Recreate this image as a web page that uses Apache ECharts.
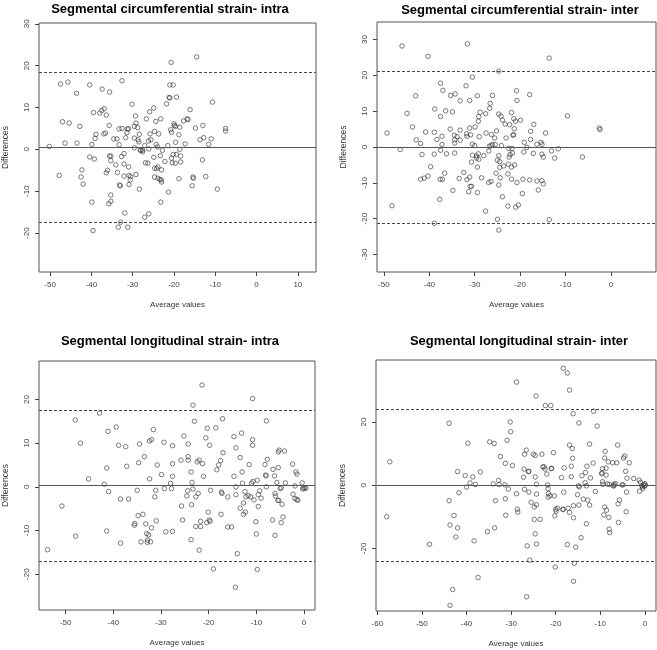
<!DOCTYPE html>
<html>
<head>
<meta charset="utf-8">
<script src="https://cdn.jsdelivr.net/npm/echarts@6/dist/echarts.min.js"></script>
<style>html,body{margin:0;padding:0;background:#fff;}#c{width:657px;height:650px;}</style>
</head>
<body>
<div id="c"></div>
<script>
// ---------- Panel titles ----------
const titles = [
  "Segmental circumferential strain- intra",
  "Segmental circumferential strain- inter",
  "Segmental longitudinal strain- intra",
  "Segmental longitudinal strain- inter"
];
const xAxisName = "Average values";
const yAxisName = "Differences";

// ---------- Tick labels ----------
const p1XTicks = [-50, -40, -30, -20, -10, 0, 10];
const p1YTicks = [-20, -10, 0, 10, 20, 30];
const p2XTicks = [-50, -40, -30, -20, -10, 0];
const p2YTicks = [-30, -20, -10, 0, 10, 20, 30];
const p3XTicks = [-50, -40, -30, -20, -10, 0];
const p3YTicks = [-20, -10, 0, 10, 20];
const p4XTicks = [-60, -50, -40, -30, -20, -10, 0];
const p4YTicks = [-20, 0, 20];

// ---------- Axis ranges [xmin, xmax, ymin, ymax] ----------
const p1Range = [-52.7, 14.4, -29.3, 30.2];
const p2Range = [-51.5, 9.9, -34.9, 34.9];
const p3Range = [-55.6, 2.3, -28.2, 28.8];
const p4Range = [-60.3, 2.5, -39.8, 39.6];

// ---------- Mean difference and limits of agreement [mean, upper, lower] ----------
const p1Lines = [0.6, 18.5, -17.5];
const p2Lines = [0.0, 21.1, -21.2];
const p3Lines = [0.3, 17.5, -17.0];
const p4Lines = [0.0, 23.9, -24.1];

// ---------- Panel 1: circumferential intra ----------
const p1Avg = [-50.2,-47.5,-45.7,-47.8,-47.0,-46.4,-45.4,-43.6,-43.5,-42.8,-42.5,-42.3,-42.0,-40.4,-40.4,-39.9,-39.9,-39.6,-39.5,-39.3,-39.1,-38.9,-38.0,-37.5,-37.4,-37.0,-36.9,-36.6,-36.4,-36.4,-36.1,-35.8,-35.7,-35.6,-35.6,-35.3,-35.3,-35.3,-35.3,-34.6,-34.1,-33.8,-33.7,-33.5,-33.3,-33.3,-33.2,-33.0,-32.9,-32.6,-32.6,-32.7,-32.1,-32.1,-32.1,-31.9,-31.7,-31.4,-31.3,-31.0,-31.2,-31.0,-30.9,-30.9,-30.6,-30.2,-30.5,-29.6,-29.6,-29.6,-29.3,-29.2,-29.2,-28.8,-28.7,-28.4,-28.4,-28.5,-28.2,-28.0,-27.6,-27.6,-27.1,-27.1,-26.9,-26.7,-26.3,-26.2,-26.1,-26.1,-25.9,-25.8,-25.6,-24.9,-24.9,-24.7,-24.7,-24.7,-24.4,-24.3,-24.2,-24.0,-23.9,-23.9,-23.7,-23.4,-23.3,-23.2,-23.2,-23.1,-23.0,-23.0,-22.8,-22.2,-21.8,-21.5,-21.3,-21.2,-21.0,-21.0,-20.8,-20.7,-20.6,-20.6,-20.4,-20.2,-20.2,-20.0,-19.9,-19.7,-19.6,-19.6,-19.4,-19.4,-18.8,-18.6,-18.6,-18.4,-18.4,-18.8,-17.7,-17.3,-16.8,-16.6,-16.1,-15.6,-15.4,-15.3,-14.8,-14.5,-13.7,-13.1,-13.0,-12.8,-12.3,-11.6,-11.0,-10.7,-9.5,-7.5,-7.5];
const p1Diff = [0.7,15.6,16.1,-6.2,6.6,1.5,6.3,13.4,1.5,5.5,-6.6,-4.9,-8.3,15.4,-1.8,-12.6,1.2,-19.4,8.8,-2.3,2.6,3.6,8.7,9.3,14.4,3.7,9.7,3.9,8.2,-5.6,-5.0,-13.0,5.7,13.7,-1.6,-1.6,-2.7,-12.4,-10.9,2.5,-3.7,2.5,-5.5,-18.6,4.9,1.1,-8.5,-8.7,-17.4,16.4,5.0,-1.7,-1.0,-3.5,-6.4,-15.2,2.8,4.0,4.9,4.9,-18.6,-4.2,-6.2,-8.4,-7.3,10.8,-6.5,5.5,2.7,0.4,8.0,6.3,-6.0,5.2,2.3,3.6,-9.5,1.8,-0.2,-0.2,-0.2,-0.6,-16.2,0.9,-3.2,7.3,-3.3,2.0,0.1,-15.4,9.0,3.7,2.3,9.9,-1.9,4.3,-4.5,-6.6,6.7,1.2,-4.6,0.6,-4.2,-6.9,3.7,-7.2,-1.5,7.3,-12.6,-7.3,-7.8,-4.9,-0.2,-2.9,10.9,0.9,-10.2,12.4,15.4,12.3,4.7,20.8,4.1,-2.1,-3.2,15.4,-1.2,6.1,5.7,-3.3,5.5,1.7,-1.2,12.5,3.5,5.3,0.0,-1.6,-3.0,-7.0,6.8,1.3,7.3,7.1,9.5,-8.7,-6.6,-6.9,5.1,22.1,2.3,-2.5,5.7,2.8,-6.5,1.2,2.5,11.3,-9.5,5.0,4.4];

// ---------- Panel 2: circumferential inter ----------
const p2Avg = [-49.3,-48.2,-46.4,-46.0,-44.9,-43.7,-43.0,-42.9,-41.9,-41.6,-41.9,-41.1,-40.8,-40.3,-40.3,-39.7,-38.9,-38.8,-38.9,-38.9,-38.3,-37.7,-37.5,-37.5,-37.6,-37.5,-37.1,-37.2,-37.2,-37.0,-36.6,-36.4,-36.2,-35.4,-35.3,-34.9,-34.8,-34.5,-34.4,-34.4,-34.3,-34.4,-33.9,-33.4,-33.2,-33.2,-33.2,-32.4,-31.9,-31.8,-31.7,-31.6,-31.7,-31.3,-31.1,-31.1,-31.1,-31.0,-30.7,-30.9,-30.5,-30.7,-30.5,-30.5,-30.0,-29.9,-29.6,-29.6,-29.4,-29.4,-29.4,-29.2,-29.1,-29.2,-29.0,-28.8,-29.1,-28.0,-28.5,-27.6,-27.5,-27.6,-26.9,-26.9,-26.8,-26.7,-26.6,-26.4,-26.4,-26.3,-26.1,-26.1,-25.6,-25.5,-25.3,-25.2,-25.0,-25.0,-24.7,-24.7,-24.7,-24.7,-24.7,-24.5,-24.5,-24.4,-24.2,-24.1,-23.9,-23.9,-23.6,-23.3,-23.1,-22.7,-22.7,-22.6,-22.5,-22.4,-22.3,-22.2,-21.9,-21.8,-21.7,-21.9,-21.9,-21.6,-21.4,-21.4,-21.3,-21.2,-21.0,-21.0,-20.8,-20.7,-20.7,-20.4,-19.9,-19.5,-19.4,-19.1,-19.2,-18.5,-17.9,-17.9,-17.7,-17.7,-17.1,-17.0,-16.3,-16.3,-16.0,-15.4,-15.2,-15.2,-15.2,-14.9,-14.9,-14.4,-13.6,-13.6,-13.1,-12.4,-11.6,-9.6,-6.3,-2.6,-2.4];
const p2Diff = [3.9,-16.4,-0.7,28.2,9.4,5.6,14.3,2.0,1.0,-2.1,-9.0,-8.7,4.2,-8.1,25.3,-5.5,-2.0,10.6,4.1,-21.3,2.1,-14.6,17.8,8.5,-9.0,-0.9,-9.0,0.7,3.0,15.8,-7.3,10.1,-1.9,5.0,14.4,9.8,-12.1,3.3,2.0,1.1,14.8,-1.7,2.9,-8.8,12.9,1.9,4.7,-7.1,17.1,3.7,3.0,28.8,-9.1,-12.5,13.0,-8.4,5.3,-11.0,-11.0,3.4,19.5,-4.2,-2.3,0.8,0.4,5.6,-2.5,-3.1,14.3,-12.7,-5.6,7.2,8.5,-1.9,2.9,9.7,-3.4,-2.4,-8.6,9.3,3.9,-17.9,-9.9,-1.1,0.2,10.8,12.2,0.4,-9.6,3.5,0.7,14.4,2.5,0.7,-7.3,4.5,-3.7,-20.2,9.2,21.2,-10.6,-2.4,-23.2,-5.7,-4.1,-8.6,8.6,0.4,7.5,-13.9,-5.3,6.4,2.5,-16.5,-7.5,-4.8,-0.4,-2.8,6.2,-2.1,9.6,-0.4,-1.7,-9.0,-5.6,3.3,7.9,3.4,5.1,-5.0,-16.8,7.2,15.7,13.0,-9.9,-16.2,7.5,-13.0,-9.0,1.3,-1.4,-0.1,14.6,-9.2,2.1,4.4,-1.8,6.3,0.8,-9.5,-12.0,1.3,0.7,-2.0,-9.4,-10.3,-2.8,3.9,24.8,-20.3,-1.1,-3.1,-0.5,8.7,-2.8,5.3,4.9];

// ---------- Panel 3: longitudinal intra ----------
const p3Avg = [-53.8,-50.8,-48.0,-47.9,-46.9,-45.2,-42.9,-41.9,-41.4,-41.4,-41.1,-41.0,-39.4,-38.9,-38.5,-38.5,-37.4,-37.2,-36.8,-35.6,-35.5,-35.0,-34.8,-34.7,-34.5,-34.2,-33.8,-33.5,-33.2,-33.0,-32.9,-32.8,-32.6,-32.4,-32.4,-32.2,-32.0,-32.0,-31.6,-31.3,-31.1,-31.0,-30.8,-29.9,-29.4,-29.3,-29.0,-28.0,-27.8,-27.6,-27.6,-27.6,-27.6,-25.8,-25.7,-25.5,-25.2,-24.6,-24.4,-24.3,-24.3,-24.3,-23.7,-23.7,-23.6,-23.5,-23.3,-23.3,-23.0,-22.7,-22.7,-22.4,-22.2,-22.0,-22.0,-21.7,-21.7,-21.4,-21.3,-21.1,-20.6,-20.4,-20.3,-20.1,-19.9,-19.8,-19.7,-19.6,-19.0,-18.5,-18.3,-17.9,-17.5,-17.4,-17.3,-17.2,-17.1,-17.0,-16.0,-16.0,-15.2,-14.7,-14.7,-14.3,-14.3,-14.3,-14.0,-14.4,-13.4,-13.4,-13.1,-13.0,-12.9,-12.7,-12.7,-12.4,-12.3,-12.2,-11.7,-11.5,-11.2,-11.0,-10.8,-10.8,-10.8,-10.7,-10.5,-10.1,-10.0,-9.8,-9.8,-9.6,-9.6,-9.3,-9.0,-8.2,-8.0,-8.0,-7.9,-7.9,-7.7,-6.6,-6.5,-6.2,-6.1,-6.1,-6.0,-5.7,-5.5,-5.4,-5.4,-5.3,-5.2,-5.0,-4.8,-4.8,-4.6,-4.4,-4.1,-3.9,-2.4,-2.3,-1.9,-1.9,-1.7,-1.5,-1.5,-1.3,-0.4,-0.3,-0.1,0.1,0.4];
const p3Diff = [-14.4,-4.4,15.3,-11.3,10.0,1.8,16.9,0.6,4.3,-10.1,12.7,-1.1,13.7,9.5,-12.9,-2.8,9.2,4.7,-2.8,-8.8,-8.4,-0.8,-6.6,5.5,9.8,-12.6,-6.3,6.9,-8.5,-10.7,-12.7,-12.2,-11.0,1.8,10.5,-12.6,10.8,-9.4,13.1,-2.3,-0.8,-7.8,5.0,2.8,10.2,-0.4,-10.3,0.8,-0.4,9.4,-10.2,5.3,2.4,6.1,-4.4,-7.6,11.6,-2.1,-0.9,6.9,9.8,6.1,3.4,-12.1,-4.1,1.0,18.7,-0.5,15.0,-2.3,-9.1,5.7,-1.5,6.1,-14.5,-9.1,-7.9,23.3,5.3,2.4,11.2,-8.2,13.4,-5.8,-7.6,9.5,-7.9,-0.8,-18.8,13.5,3.9,5.0,6.0,-6.3,-1.2,-1.5,15.6,7.8,-2.3,-9.2,-9.2,2.4,11.5,8.9,0.0,-1.8,-15.3,-23.0,6.7,-4.9,12.3,3.4,0.8,-3.7,-6.3,-1.1,-5.8,-2.3,-2.0,5.1,-2.3,0.8,20.2,10.8,9.5,1.2,-3.0,-8.0,-10.8,1.5,-18.9,-1.8,-4.5,-0.9,-2.6,5.1,2.5,2.7,15.1,0.0,6.3,-7.6,4.0,2.5,-1.5,-11.1,-2.1,1.0,-3.1,8.0,4.4,-3.1,8.4,-0.4,-0.2,-8.2,-4.0,-6.9,8.2,0.9,5.2,-1.7,0.2,-2.7,3.4,-2.9,2.9,-3.1,0.9,-0.5,-0.2,-0.4,-0.3];

// ---------- Panel 4: longitudinal inter ----------
const p4Avg = [-57.9,-57.2,-48.3,-43.9,-43.9,-43.7,-43.7,-43.1,-42.8,-42.4,-42.0,-42.0,-41.7,-40.3,-40.0,-39.7,-39.2,-38.6,-38.3,-38.0,-37.4,-36.9,-35.3,-34.8,-34.0,-33.8,-33.7,-33.5,-32.8,-32.7,-32.4,-31.4,-31.3,-31.3,-31.2,-30.9,-30.6,-30.2,-30.1,-29.7,-28.8,-28.8,-28.6,-28.5,-27.0,-27.2,-27.1,-27.0,-26.6,-26.4,-26.5,-26.1,-26.0,-26.0,-25.8,-25.5,-25.0,-24.8,-24.8,-24.6,-24.6,-24.6,-24.4,-24.3,-24.3,-24.3,-24.3,-23.5,-23.1,-22.9,-22.6,-22.4,-22.3,-22.0,-21.8,-21.7,-21.7,-21.6,-21.3,-21.1,-21.0,-20.9,-20.5,-20.3,-20.2,-20.1,-20.0,-19.9,-19.6,-18.7,-18.4,-18.3,-18.3,-18.2,-18.1,-17.4,-17.4,-17.2,-16.9,-16.9,-16.9,-16.5,-16.5,-16.3,-16.2,-16.1,-16.0,-16.0,-16.0,-15.8,-15.5,-15.1,-14.9,-14.8,-14.8,-14.7,-14.3,-14.1,-13.8,-13.4,-13.3,-13.1,-13.1,-13.0,-12.8,-12.4,-12.4,-12.2,-11.6,-11.5,-11.1,-10.7,-9.7,-9.6,-9.5,-9.5,-9.4,-9.2,-9.0,-9.0,-8.9,-8.7,-8.7,-8.6,-8.4,-8.2,-8.1,-8.0,-8.0,-7.9,-7.2,-7.1,-6.9,-6.9,-6.6,-6.3,-6.1,-6.0,-5.9,-5.7,-5.1,-4.9,-4.8,-4.5,-4.3,-4.2,-4.1,-4.0,-3.5,-2.5,-1.3,-1.2,-1.0,-0.7,-0.5,-0.5,-0.3,-0.1,0.0,0.1];
const p4Diff = [-10.0,7.4,-18.7,19.6,-4.9,-12.6,-38.0,-33.0,-9.6,-16.4,-13.5,4.3,-2.4,3.0,-0.6,13.3,0.7,2.6,-17.6,0.2,-29.2,4.2,-14.7,13.7,0.4,13.2,-13.5,-4.9,1.5,0.2,9.1,0.1,6.9,-4.3,-9.5,14.2,-1.2,20.0,16.9,6.2,32.6,-2.7,-7.6,-8.5,9.8,2.5,5.1,-1.3,11.1,-19.2,-35.3,4.3,4.4,-2.2,-23.7,-5.4,9.8,-6.9,-10.8,9.4,2.6,-15.4,28.2,0.3,-2.8,-6.2,-18.6,-10.8,9.8,5.8,5.8,5.1,25.2,3.5,0.1,-3.8,-1.1,-2.6,-3.3,25.2,5.3,5.3,10.3,-3.4,-9.7,-25.9,-7.6,-8.2,-7.3,2.4,-7.6,-7.7,37.0,-2.2,5.5,35.5,-18.8,-7.3,30.1,-8.6,12.7,2.7,6.0,11.6,8.5,22.6,-6.5,-10.3,-30.4,-24.7,-19.6,-3.0,-0.2,19.7,-6.3,-0.5,-16.6,3.0,-4.4,0.8,4.0,-0.2,-12.2,6.0,-4.7,13.0,-6.3,2.3,7.0,23.4,-2.0,18.7,3.6,3.9,5.2,1.1,0.3,-9.4,8.6,-6.9,10.7,3.2,5.4,-7.9,0.4,7.4,-10.2,0.2,-13.9,-15.0,7.1,-0.2,0.3,-0.2,0.5,7.1,12.7,-5.9,-11.8,-4.7,0.1,0.1,8.6,9.2,4.4,-8.4,-2.2,2.2,7.1,2.1,1.6,-1.9,0.9,-0.2,-0.5,-1.1,0.2,-0.3,0.5,0.0];

// ---------- Layout (pixels) ----------
const grids = [
  {left: 38, top: 23, width: 278, height: 249},
  {left: 377, top: 22, width: 279, height: 250},
  {left: 39, top: 361, width: 276, height: 249},
  {left: 376, top: 360, width: 280, height: 251}
];
const titlePos = [[170, 9.5], [520, 10.5], [170, 341.5], [519, 341.5]];

const panels = [
  {avg: p1Avg, diff: p1Diff, xt: p1XTicks, yt: p1YTicks, r: p1Range, l: p1Lines},
  {avg: p2Avg, diff: p2Diff, xt: p2XTicks, yt: p2YTicks, r: p2Range, l: p2Lines},
  {avg: p3Avg, diff: p3Diff, xt: p3XTicks, yt: p3YTicks, r: p3Range, l: p3Lines},
  {avg: p4Avg, diff: p4Diff, xt: p4XTicks, yt: p4YTicks, r: p4Range, l: p4Lines}
];

const FONT = '"Liberation Sans", Arial, sans-serif';
const AX = '#444';

const option = {
  animation: false,
  backgroundColor: '#fff',
  graphic: titles.map((t, i) => ({
    type: 'text', x: titlePos[i][0], y: titlePos[i][1], silent: true,
    style: {text: t, fontFamily: FONT, fontWeight: 'bold', fontSize: 13, fill: '#000',
            align: 'center', verticalAlign: 'middle', textAlign: 'center', textVerticalAlign: 'middle'}
  })),
  grid: grids.map(g => Object.assign({show: true, borderColor: '#555', borderWidth: 1,
                                       backgroundColor: 'transparent', containLabel: false}, g)),
  xAxis: panels.map((p, i) => ({
    type: 'value', gridIndex: i, min: p.r[0], max: p.r[1], position: 'bottom',
    name: xAxisName, nameLocation: 'middle', nameGap: 29,
    nameTextStyle: {fontFamily: FONT, fontSize: 8, color: '#333'},
    axisLine: {show: false, onZero: false},
    splitLine: {show: false},
    axisTick: {show: true, inside: false, length: 4, customValues: p.xt, lineStyle: {color: AX}},
    axisLabel: {show: true, customValues: p.xt, margin: 9, fontFamily: FONT, fontSize: 8, color: AX}
  })),
  yAxis: panels.map((p, i) => ({
    type: 'value', gridIndex: i, min: p.r[2], max: p.r[3], position: 'left',
    name: yAxisName, nameLocation: 'middle', nameGap: 29, nameRotate: 90,
    nameTextStyle: {fontFamily: FONT, fontSize: 8.5, color: '#333'},
    axisLine: {show: false, onZero: false},
    splitLine: {show: false},
    axisTick: {show: true, inside: false, length: 4, customValues: p.yt, lineStyle: {color: AX}},
    axisLabel: {show: true, customValues: p.yt, rotate: 90, margin: 8, fontFamily: FONT, fontSize: 8, color: AX}
  })),
  series: panels.map((p, i) => ({
    type: 'scatter', xAxisIndex: i, yAxisIndex: i,
    data: p.avg.map((a, k) => [a, p.diff[k]]),
    symbol: 'circle', symbolSize: 4.5,
    itemStyle: {color: 'rgba(0,0,0,0)', borderColor: '#333', borderWidth: 0.8},
    emphasis: {disabled: true},
    markLine: {
      silent: true, symbol: ['none', 'none'], label: {show: false}, animation: false,
      data: [
        {yAxis: p.l[0], lineStyle: {type: 'solid', color: '#555', width: 1.2}},
        {yAxis: p.l[1], lineStyle: {type: [3, 2], color: '#444', width: 1}},
        {yAxis: p.l[2], lineStyle: {type: [3, 2], color: '#444', width: 1}}
      ]
    }
  }))
};

const chart = echarts.init(document.getElementById('c'), null, {renderer: 'canvas'});
chart.setOption(option);
</script>
</body>
</html>
